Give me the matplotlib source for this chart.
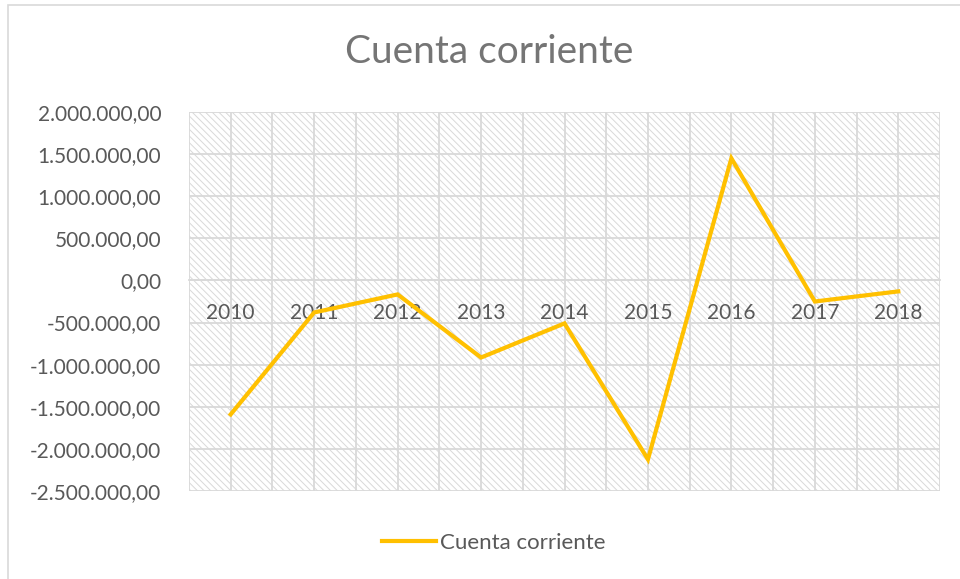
import matplotlib
matplotlib.use('Agg')
import matplotlib.pyplot as plt
import matplotlib.patches as patches
from matplotlib.ticker import FuncFormatter
import numpy as np

years = ['2010', '2011', '2012', '2013', '2014', '2015', '2016', '2017', '2018']
cuenta_corriente = [-1590000, -380000, -166000, -915000, -510000, -2125000, 1450000, -250000, -130000]
y_ticks = [2000000, 1500000, 1000000, 500000, 0, -500000, -1000000, -1500000, -2000000, -2500000]

plt.rcParams['font.family'] = ['Lato', 'DejaVu Sans']
plt.rcParams['hatch.linewidth'] = 0.7
plt.rcParams['hatch.color'] = '#d9d9d9'

text_color = '#595959'
grid_color = '#d9d9d9'

fig = plt.figure(figsize=(9.6, 5.79), dpi=100)
# chart area border (only left and top visible in the crop)
fig.patches.append(patches.Rectangle((8 / 960, -0.05), 1.2, 1 - 5 / 579 + 0.05,
                                     transform=fig.transFigure, fill=False,
                                     edgecolor='#d9d9d9', linewidth=1.2))

ax = fig.add_axes([189 / 960, 1 - 491 / 579, 751 / 960, 379 / 579])
ax.patch.set_facecolor('white')
ax.patch.set_hatch('\\' * 5)
ax.patch.set_edgecolor(grid_color)
ax.patch.set_linewidth(0)

x = np.arange(len(years))
ax.plot(x, cuenta_corriente, color='#FFC000', linewidth=3.0, solid_joinstyle='miter',
        label='Cuenta corriente', zorder=3)

ax.set_xlim(-0.5, len(years) - 0.5)
ax.set_ylim(-2500000, 2000000)
ax.set_yticks(y_ticks)

def fmt(v, pos):
    s = f"{abs(v):,.2f}".replace(',', 'X').replace('.', ',').replace('X', '.')
    return ('-' if v < 0 else '') + s

ax.yaxis.set_major_formatter(FuncFormatter(fmt))
ax.set_xticks(x)
ax.set_xticklabels(years)
ax.set_xticks(np.arange(-0.5, len(years), 1.0), minor=True)

ax.grid(True, which='major', color=grid_color, linewidth=1.3)
ax.grid(True, which='minor', axis='x', color=grid_color, linewidth=1.3)
ax.set_axisbelow(True)

for s in ['top', 'right', 'left']:
    ax.spines[s].set_visible(False)
ax.spines['bottom'].set_position(('data', 0))
ax.spines['bottom'].set_color(grid_color)
ax.spines['bottom'].set_linewidth(1.3)

ax.tick_params(axis='both', which='both', length=0, colors=text_color, labelsize=15)
ax.tick_params(axis='x', pad=16)
ax.tick_params(axis='y', pad=20)

fig.text(0.51, 0.91, 'Cuenta corriente', ha='center', va='center', fontsize=28,
         color='#757575')

leg = fig.legend(loc='center', bbox_to_anchor=(0.514, 0.062), frameon=False, fontsize=16,
                 handlelength=2.45, handletextpad=0.15, labelcolor=text_color)

fig.savefig('out.png', dpi=100)
